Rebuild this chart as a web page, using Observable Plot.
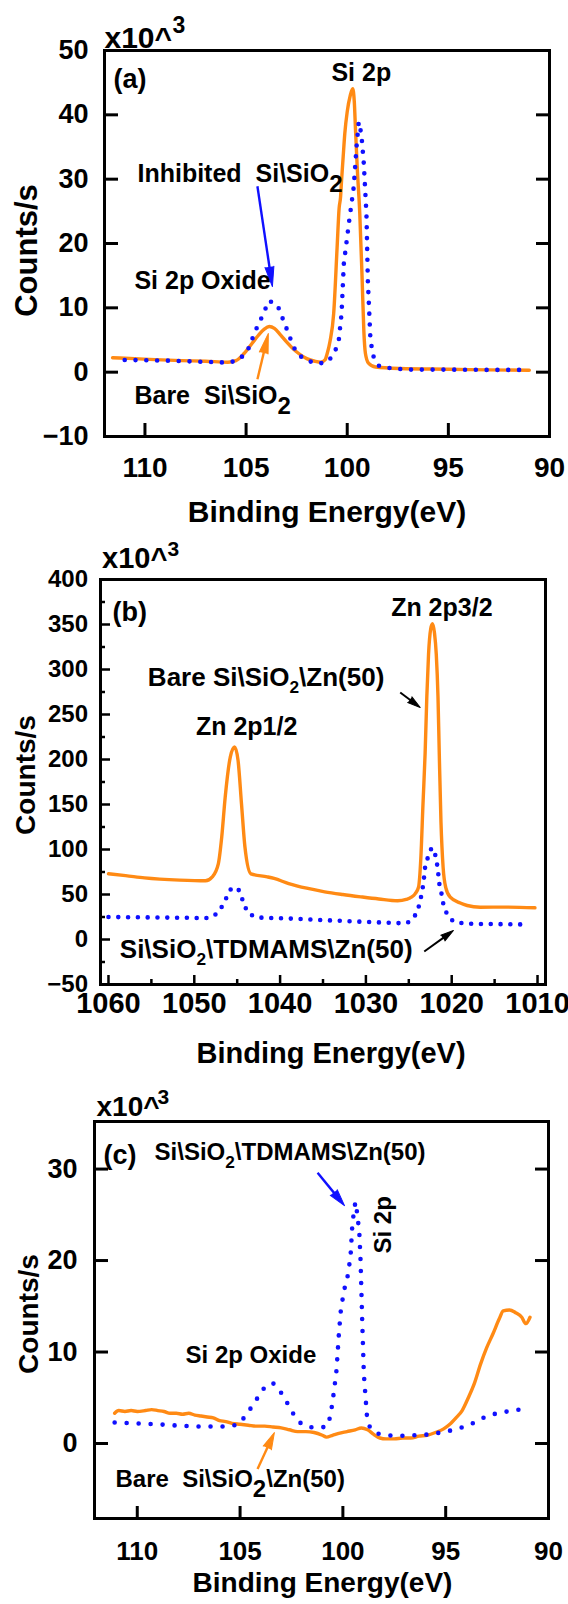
<!DOCTYPE html>
<html><head><meta charset="utf-8">
<script src="https://cdn.jsdelivr.net/npm/d3@7"></script>
<script src="https://cdn.jsdelivr.net/npm/@observablehq/plot@0.6"></script>
<style>
body{margin:0;background:#fff;width:568px;}
svg{display:block;}
svg text{white-space:pre;}
</style>
</head><body><div id="chart"></div>
<script>
// ---------- Panel (a): Si 2p ----------
const aBare = [[111.6,2.25],[110.5,2.1],[109.5,1.95],[108.2,1.8],[107,1.7],[105.9,1.55],[105.5,1.8],[105.1,2.9],[104.7,4.5],[104.4,5.7],[104.1,6.7],[103.85,7.1],[103.6,6.8],[103.3,5.8],[103.0,4.7],[102.7,3.7],[102.4,2.9],[102.0,2.1],[101.6,1.7],[101.3,1.55],[101.1,1.9],[100.99,2.9],[100.85,4.8],[100.67,9.1],[100.5,19.4],[100.4,25.5],[100.33,27.2],[100.28,29.8],[100.2,33.5],[100.12,37.1],[100.0,40.5],[99.85,43.0],[99.73,44.05],[99.65,42.0],[99.59,37.6],[99.5,31.5],[99.38,24.7],[99.26,14.2],[99.18,6.5],[99.1,2.9],[98.95,1.4],[98.6,0.8],[97.4,0.57],[95,0.45],[93,0.35],[91,0.3]];
const aInhibited = [[111,1.9],[110,1.85],[109,1.8],[108,1.7],[107,1.6],[106,1.5],[105.7,1.6],[105.3,2.1],[104.93,3.3],[104.53,6.5],[104.23,8.5],[103.87,11.1],[103.46,10.5],[103.05,7.2],[102.65,3.9],[102.38,2.6],[101.88,1.7],[101.4,1.35],[101.0,1.55],[100.65,2.8],[100.42,4.9],[100.28,9.1],[100.17,16.8],[99.92,23.1],[99.68,28.75],[99.54,35],[99.43,38.9],[99.3,37],[99.18,32.4],[99.05,24.6],[98.98,14.2],[98.85,4.9],[98.69,2.3],[98.44,1.0],[98.03,0.68],[97,0.4],[95,0.4],[93,0.35],[91,0.35]];
const aXTicks = [110,105,100,95,90];
const aYTicks = [-10,0,10,20,30,40,50];
const aNotes = [
  {t:"Si 2p", x:100.78, y:45.2},
  {t:"Inhibited  Si\\SiO{2}", x:110.37, y:29.6},
  {t:"Si 2p Oxide", x:110.52, y:12.9},
  {t:"Bare  Si\\SiO{2}", x:110.52, y:-4.9}
];
const aArrows = [
  {x1:104.44, y1:28.9, x2:103.7, y2:13.3, c:"#1010ff"},
  {x1:104.44, y1:-1.1, x2:103.9, y2:6.0, c:"#ff8a14"}
];

// ---------- Panel (b): Zn 2p ----------
const bBare = [[1060,73],[1058,71],[1055.8,68.5],[1051.7,66],[1048.7,65.2],[1047.9,69.6],[1047.2,84],[1046.8,114],[1046.4,158],[1045.8,203],[1045.3,214],[1044.9,199],[1044.5,151],[1044.1,103],[1043.4,73],[1041.5,69.6],[1040.7,67.8],[1039,62.2],[1036.9,57],[1034.8,53],[1032.7,50],[1030.6,47.4],[1028.5,45],[1026.3,43],[1025.3,44.5],[1024.7,47],[1024.25,51],[1023.87,58],[1023.6,90],[1023.35,150],[1023.1,206.7],[1022.9,270],[1022.7,317],[1022.45,345],[1022.24,350.8],[1022.0,340],[1021.8,317],[1021.6,270],[1021.45,206.7],[1021.25,130],[1021.0,80],[1020.7,58],[1020.17,47],[1019,40.5],[1018.2,37.8],[1016.67,35.9],[1013.7,36],[1010.3,35.2]];
const bTDMAMS = [[1060,25],[1055,24.5],[1050,24],[1048.7,23.5],[1047.6,27],[1046.8,36.3],[1046.2,47.4],[1045.7,56.7],[1044.9,56.7],[1044.5,47.4],[1044.1,36.3],[1043.6,28.1],[1042.5,24.4],[1038,23],[1034.8,21.5],[1030,19.5],[1025.5,18],[1025.04,19.2],[1024.5,24],[1024.08,29.2],[1023.75,39.6],[1023.5,50.7],[1023.3,62],[1023.1,80.3],[1022.73,93],[1022.34,102],[1021.87,93],[1021.65,80.3],[1021.42,60],[1021.14,48.9],[1020.95,37.8],[1020.56,28.5],[1019.86,20.4],[1018.8,18.1],[1017.64,17.4],[1014,17],[1011,16.7]];
const bXTicks = [1060,1050,1040,1030,1020,1010];
const bXMinor = [1055,1045,1035,1025,1015];
const bYTicks = [-50,0,50,100,150,200,250,300,350,400];
const bYMinor = [-25,25,75,125,175,225,275,325,375];
const bNotes = [
  {t:"Zn 2p3/2", x:1027.06, y:358.9, s:25},
  {t:"Bare Si\\SiO[2]\\Zn(50)", x:1055.41, y:282.2, s:26},
  {t:"Zn 2p1/2", x:1049.81, y:226.7, s:25},
  {t:"Si\\SiO[2]\\TDMAMS\\Zn(50)", x:1058.68, y:-20, s:26}
];
const bArrows = [
  {x1:1026.0, y1:274.4, x2:1023.67, y2:257.8, c:"black"},
  {x1:1023.2, y1:-13.3, x2:1019.8, y2:10, c:"black"}
];

// ---------- Panel (c): Si 2p after Zn ----------
const cBare = [[111.1,3.3],[110.9,3.6],[110.6,3.5],[110.3,3.6],[110.0,3.5],[109.6,3.6],[109.3,3.7],[109.0,3.6],[108.7,3.5],[108.4,3.3],[108.1,3.3],[107.8,3.2],[107.5,3.3],[107.2,3.1],[106.9,3.0],[106.6,2.9],[106.3,2.8],[106.0,2.5],[105.7,2.4],[105.4,2.2],[105.0,2.1],[104.6,2.0],[104.2,1.9],[103.8,1.9],[103.4,1.8],[103.0,1.7],[102.6,1.5],[102.2,1.3],[101.8,1.3],[101.4,1.2],[101.0,0.9],[100.8,0.7],[100.5,0.9],[100.2,1.1],[99.8,1.3],[99.4,1.5],[99.1,1.7],[98.8,1.5],[98.5,1.0],[98.2,0.6],[97.9,0.5],[97.5,0.5],[97.1,0.6],[96.7,0.6],[96.3,0.8],[95.9,0.9],[95.5,1.2],[95.1,1.6],[94.8,2.1],[94.5,2.8],[94.2,3.6],[93.9,5.0],[93.6,6.6],[93.3,8.7],[93.0,10.5],[92.7,12.0],[92.4,13.6],[92.2,14.5],[91.9,14.6],[91.6,14.3],[91.3,13.8],[91.1,13.1],[90.9,13.8]];
const cTDMAMS = [[111.1,2.3],[110,2.2],[109,2.1],[108,1.95],[107,1.85],[106,1.85],[105.4,1.9],[105.0,2.2],[104.7,3.2],[104.3,4.4],[104.0,5.6],[103.7,6.4],[103.4,6.6],[103.1,5.9],[102.75,4.6],[102.4,3.2],[102.1,2.3],[101.7,1.8],[101.17,1.71],[100.76,1.86],[100.6,3.06],[100.44,5.6],[100.31,8.0],[100.2,11.8],[100.11,14.35],[99.95,16.7],[99.79,18],[99.63,20.4],[99.55,23.5],[99.47,25.3],[99.39,26.4],[99.3,25.1],[99.2,23],[99.14,20],[99.06,13.4],[98.98,7.6],[98.82,2.7],[98.66,1.6],[98.25,1.05],[97.68,0.87],[97.1,0.85],[96.5,0.9],[96,0.95],[95.5,1.1],[95,1.3],[94.5,1.55],[94,1.9],[93.5,2.4],[93,3],[92.5,3.3],[92,3.5],[91.3,3.75]];
const cXTicks = [110,105,100,95,90];
const cYTicks = [0,10,20,30];
const cNotes = [
  {t:"Si\\SiO[2]\\TDMAMS\\Zn(50)", x:109.16, y:30.94},
  {t:"Si 2p Oxide", x:107.65, y:8.85},
  {t:"Bare  Si\\SiO{2}\\Zn(50)", x:111.06, y:-4.8}
];
const cRotNotes = [{t:"Si 2p", x:98.02, y:23.9}];
const cArrows = [
  {x1:101.23, y1:29.6, x2:99.92, y2:26.0, c:"#1010ff"},
  {x1:104.15, y1:-2.8, x2:103.33, y2:1.2, c:"#ff8a14"}
];

const ORANGE = "#ff8a14", BLUE = "#1010ff";
const FONT = "'Liberation Sans', Arial, Helvetica, sans-serif";
const fmt = d => d < 0 ? "\u2212" + Math.abs(d) : String(d);
const px = d => d[0], py = d => d[1];

function baseStyle() {
  return {fontFamily: FONT, fontWeight: "bold", fontSize: "26px", color: "black", background: "white", overflow: "visible"};
}
function orangeLine(data) {
  return Plot.line(data, {x: px, y: py, stroke: ORANGE, strokeWidth: 3.4, strokeLinejoin: "round", curve: "monotone-x"});
}
function dotLine(data, gap) {
  return Plot.line(data, {x: px, y: py, stroke: BLUE, strokeWidth: 4.6, strokeLinecap: "round", strokeDasharray: `0 ${gap}`, curve: "linear"});
}

// arrow = shaft (link) + filled head (vector spike); geometry mirrors the plot's own scales
function arrowMarks(arrows, dim, headLen, headR, width, useSpike) {
  const sx = d3.scaleLinear(dim.x, [dim.ml, dim.w - dim.mr]);
  const sy = d3.scaleLinear(dim.y, [dim.h - dim.mb, dim.mt]);
  const geo = arrows.map(a => {
    const X1 = sx(a.x1), Y1 = sy(a.y1), X2 = sx(a.x2), Y2 = sy(a.y2);
    const L = Math.hypot(X2 - X1, Y2 - Y1);
    const f = Math.max(0, (L - headLen * 0.8) / L);
    return {...a, xs: a.x1 + (a.x2 - a.x1) * f, ys: a.y1 + (a.y2 - a.y1) * f,
            ang: Math.atan2(X2 - X1, -(Y2 - Y1)) * 180 / Math.PI};
  });
  if (!useSpike) return [Plot.arrow(arrows, {x1: "x1", y1: "y1", x2: "x2", y2: "y2", stroke: "c", strokeWidth: width, headLength: headLen, headAngle: 40})];
  return [
    Plot.link(geo, {x1: "x1", y1: "y1", x2: "xs", y2: "ys", stroke: "c", strokeWidth: width}),
    Plot.vector(geo, {x: "x2", y: "y2", rotate: "ang", length: headLen, r: headR, anchor: "end", shape: "spike", fill: "c", stroke: "c", strokeWidth: 1})
  ];
}

function subscripts(svg) {
  d3.select(svg).selectAll("text").each(function() {
    const t = this.textContent;
    if (!/[\{\[]2[\}\]]/.test(t)) return;
    const fs = parseFloat(getComputedStyle(this).fontSize) || 24;
    const parts = t.split(/(\{2\}|\[2\])/);
    const sel = d3.select(this);
    sel.text(null);
    let shift = 0;
    parts.forEach(p => {
      if (p === "{2}") { sel.append("tspan").attr("dy", 0.42 * fs).attr("font-size", 1.0 * fs).text("2"); shift = 0.42 * fs; }
      else if (p === "[2]") { sel.append("tspan").attr("dy", 0.3 * fs).attr("font-size", 0.72 * fs).text("2"); shift = 0.3 * fs; }
      else if (p.length) { sel.append("tspan").attr("dy", -shift).text(p); shift = 0; }
    });
  });
}

function build(useSpike) {
  const dA = {w: 568, h: 535, mt: 50, mb: 99, ml: 104, mr: 19, x: [112, 90], y: [-10, 50]};
  const plotA = Plot.plot({
    width: dA.w, height: dA.h,
    marginTop: dA.mt, marginBottom: dA.mb, marginLeft: dA.ml, marginRight: dA.mr,
    style: baseStyle(),
    x: {domain: dA.x},
    y: {domain: dA.y},
    marks: [
      Plot.axisY(aYTicks, {anchor: "left", tickSize: -14, tickPadding: 30, strokeWidth: 3, tickFormat: fmt, fontSize: 27, label: null}),
      Plot.axisY(aYTicks, {anchor: "right", tickSize: -14, strokeWidth: 3, tickFormat: () => "", label: null}),
      Plot.axisX(aXTicks, {anchor: "bottom", tickSize: -13, tickPadding: 34, strokeWidth: 3, tickFormat: fmt, fontSize: 28, label: null}),
      orangeLine(aBare),
      dotLine(aInhibited, 10.8),
      Plot.frame({stroke: "black", strokeWidth: 3}),
      ...arrowMarks(aArrows, dA, 20, 4.5, 2.4, useSpike),
      Plot.text(aNotes, {x: "x", y: "y", text: "t", textAnchor: "start", lineAnchor: "bottom", fontSize: 25}),
      Plot.text(["x10^"], {frameAnchor: "top-left", textAnchor: "start", lineAnchor: "bottom", dx: 0, dy: -3, fontSize: 30}),
      Plot.text(["3"], {frameAnchor: "top-left", textAnchor: "start", lineAnchor: "bottom", dx: 68, dy: -18, fontSize: 23}),
      Plot.text(["(a)"], {frameAnchor: "top-left", textAnchor: "start", lineAnchor: "bottom", dx: 9, dy: 37, fontSize: 27}),
      Plot.text(["Counts/s"], {frameAnchor: "left", rotate: -90, textAnchor: "middle", lineAnchor: "middle", dx: -77, dy: 7, fontSize: 31}),
      Plot.text(["Binding Energy(eV)"], {frameAnchor: "bottom", textAnchor: "middle", lineAnchor: "bottom", dx: 0, dy: 85, fontSize: 30})
    ]
  });

  const dB = {w: 568, h: 535, mt: 44, mb: 86, ml: 100, mr: 23, x: [1060.93, 1009.07], y: [-50, 400]};
  const plotB = Plot.plot({
    width: dB.w, height: dB.h,
    marginTop: dB.mt, marginBottom: dB.mb, marginLeft: dB.ml, marginRight: dB.mr,
    style: baseStyle(),
    x: {domain: dB.x},
    y: {domain: dB.y},
    marks: [
      Plot.axisY(bYTicks, {anchor: "left", tickSize: -10, tickPadding: 22.5, strokeWidth: 2.5, tickFormat: fmt, fontSize: 24, label: null}),
      Plot.axisY(bYMinor, {anchor: "left", tickSize: -5, strokeWidth: 2.5, tickFormat: () => "", label: null}),
      Plot.axisX(bXTicks, {anchor: "bottom", tickSize: -9, tickPadding: 17, strokeWidth: 2.5, tickFormat: fmt, fontSize: 29, label: null}),
      Plot.axisX(bXMinor, {anchor: "bottom", tickSize: -5, strokeWidth: 2.5, tickFormat: () => "", label: null}),
      orangeLine(bBare),
      dotLine(bTDMAMS, 9.8),
      Plot.frame({stroke: "black", strokeWidth: 3}),
      ...arrowMarks(bArrows, dB, 13, 3.5, 2, useSpike),
      Plot.text(bNotes, {x: "x", y: "y", text: "t", fontSize: "s", textAnchor: "start", lineAnchor: "bottom"}),
      Plot.text(["x10^"], {frameAnchor: "top-left", textAnchor: "start", lineAnchor: "bottom", dx: 1.5, dy: -12, fontSize: 29}),
      Plot.text(["3"], {frameAnchor: "top-left", textAnchor: "start", lineAnchor: "bottom", dx: 67, dy: -24, fontSize: 21}),
      Plot.text(["(b)"], {frameAnchor: "top-left", textAnchor: "start", lineAnchor: "bottom", dx: 12, dy: 41, fontSize: 27}),
      Plot.text(["Counts/s"], {frameAnchor: "left", rotate: -90, textAnchor: "middle", lineAnchor: "middle", dx: -74.5, dy: -7, fontSize: 28}),
      Plot.text(["Binding Energy(eV)"], {frameAnchor: "bottom", textAnchor: "middle", lineAnchor: "bottom", dx: 8, dy: 78, fontSize: 29})
    ]
  });

  const dC = {w: 568, h: 534, mt: 51, mb: 86, ml: 94, mr: 20, x: [112.08, 90], y: [-8.2, 35.2]};
  const plotC = Plot.plot({
    width: dC.w, height: dC.h,
    marginTop: dC.mt, marginBottom: dC.mb, marginLeft: dC.ml, marginRight: dC.mr,
    style: baseStyle(),
    x: {domain: dC.x},
    y: {domain: dC.y},
    marks: [
      Plot.axisY(cYTicks, {anchor: "left", tickSize: -14, tickPadding: 31, strokeWidth: 3, tickFormat: fmt, fontSize: 27, label: null}),
      Plot.axisY(cYTicks, {anchor: "right", tickSize: -14, strokeWidth: 3, tickFormat: () => "", label: null}),
      Plot.axisX(cXTicks, {anchor: "bottom", tickSize: -12, tickPadding: 35, strokeWidth: 3, tickFormat: fmt, fontSize: 26, label: null}),
      orangeLine(cBare),
      dotLine(cTDMAMS, 12),
      Plot.frame({stroke: "black", strokeWidth: 3}),
      ...arrowMarks(cArrows, dC, 17, 4.5, 2.4, useSpike),
      Plot.text(cNotes, {x: "x", y: "y", text: "t", textAnchor: "start", lineAnchor: "bottom", fontSize: 24}),
      Plot.text(cRotNotes, {x: "x", y: "y", text: "t", rotate: -90, textAnchor: "middle", lineAnchor: "middle", fontSize: 24}),
      Plot.text(["x10^"], {frameAnchor: "top-left", textAnchor: "start", lineAnchor: "bottom", dx: 2, dy: -6, fontSize: 28}),
      Plot.text(["3"], {frameAnchor: "top-left", textAnchor: "start", lineAnchor: "bottom", dx: 63, dy: -18, fontSize: 21}),
      Plot.text(["(c)"], {frameAnchor: "top-left", textAnchor: "start", lineAnchor: "bottom", dx: 9, dy: 42, fontSize: 27}),
      Plot.text(["Counts/s"], {frameAnchor: "left", rotate: -90, textAnchor: "middle", lineAnchor: "middle", dx: -65, dy: -6, fontSize: 28}),
      Plot.text(["Binding Energy(eV)"], {frameAnchor: "bottom", textAnchor: "middle", lineAnchor: "bottom", dx: 1, dy: 73, fontSize: 28})
    ]
  });
  return [plotA, plotB, plotC];
}

let plots;
try { plots = build(true); } catch (e) { plots = build(false); }
const root = document.getElementById("chart");
for (const p of plots) { subscripts(p); root.appendChild(p); }
</script>
</body></html>
